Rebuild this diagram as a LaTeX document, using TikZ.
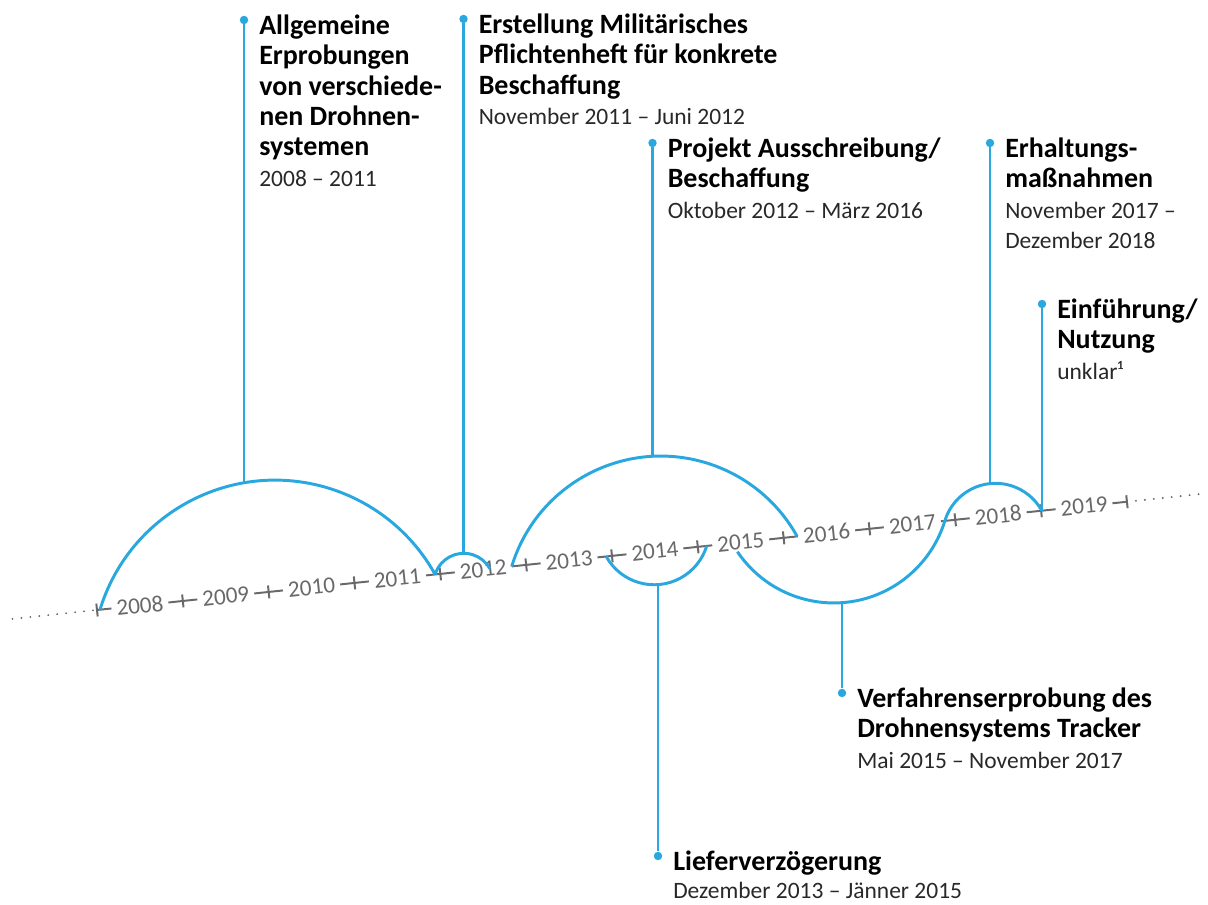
\documentclass[tikz,border=0pt]{standalone}
\usepackage{fontspec}
\setmainfont{Carlito}
\usepackage{tikz}
\usetikzlibrary{calc}

\definecolor{tlblue}{RGB}{41,168,224}
\definecolor{tlgray}{RGB}{105,105,108}
\definecolor{tldate}{RGB}{40,40,40}
\newcommand{\titlefont}{\fontsize{19.9pt}{21.6pt}\selectfont\bfseries}
\newcommand{\datefont}{\fontsize{16.7pt}{21.6pt}\selectfont\mdseries\color{tldate}}

\tikzset{
	arcline/.style={tlblue, line width=2.1pt},
	conn/.style={tlblue, line width=1.9pt},
	evdot/.style={circle, fill=tlblue, inner sep=0pt, minimum size=6pt},
	evtext/.style={anchor=base west, inner sep=0pt, font=\titlefont},
	yearlbl/.style={fill=white, text=tlgray, inner xsep=3.6pt, inner ysep=2pt, rotate=6, font=\fontsize{16.5pt}{19pt}\selectfont},
	axisline/.style={tlgray, line width=1.4pt},
	axisdots/.style={tlgray, line width=1.5pt, line cap=round, dash pattern=on 0pt off 6.4pt},
}

\begin{document}
\begin{tikzpicture}[x=0.025cm, y=0.025cm]
	\useasboundingbox (0,0) rectangle (1208,905);
	
	\begin{scope}[shift={(97,295)}, rotate=6]
	%axis
	\draw[axisdots] (-85,0) -- (0,0);
	\draw[axisdots] (1035.6,0) -- (1114,0);
	\draw[axisline] (0,0) -- (1035.6,0);
	\draw[axisline] (0,-6.5)--(0,6.5) (86.3,-6.5)--(86.3,6.5) (172.6,-6.5)--(172.6,6.5) (258.9,-6.5)--(258.9,6.5)
		(345.2,-6.5)--(345.2,6.5) (431.5,-6.5)--(431.5,6.5) (517.8,-6.5)--(517.8,6.5) (604.1,-6.5)--(604.1,6.5)
		(690.4,-6.5)--(690.4,6.5) (776.7,-6.5)--(776.7,6.5) (863,-6.5)--(863,6.5) (949.3,-6.5)--(949.3,6.5)
		(1035.6,-6.5)--(1035.6,6.5);
	
	%years
	\node[yearlbl] (y2008) at (43.15,0)  {2008};
	\node[yearlbl] (y2009) at (129.45,0) {2009};
	\node[yearlbl] (y2010) at (215.75,0) {2010};
	\node[yearlbl] (y2011) at (302.05,0) {2011};
	\node[yearlbl] (y2012) at (388.35,0) {2012};
	\node[yearlbl] (y2013) at (474.65,0) {2013};
	\node[yearlbl] (y2014) at (560.95,0) {2014};
	\node[yearlbl] (y2015) at (647.25,0) {2015};
	\node[yearlbl] (y2016) at (733.55,0) {2016};
	\node[yearlbl] (y2017) at (819.85,0) {2017};
	\node[yearlbl] (y2018) at (906.15,0) {2018};
	\node[yearlbl] (y2019) at (992.45,0) {2019};
	
	%arcs
	\draw[arcline] (3,0) arc[start angle=157, end angle=23, radius=183.05];		%2008-2011
	\draw[arcline] (340,0) arc[start angle=157, end angle=23, radius=29.9];		%11/2011-6/2012
	\draw[arcline] (417,0) arc[start angle=157, end angle=23, radius=155.9];		%10/2012-3/2016
	\draw[arcline] (512,0) arc[start angle=203, end angle=337, radius=54.9];		%12/2013-1/2015
	\draw[arcline] (643,-9) arc[start angle=208, end angle=337, radius=116.2]
		arc[start angle=157, end angle=23, radius=52.9];						%5/2015-11/2017-12/2018
	
	%points on arcs
	\coordinate (pAllg) at (158.7,111.1);
	\coordinate (pErst) at (370.6,18.0);
	\coordinate (pProj) at (568.7,94.8);
	\coordinate (pLief) at (560.6,-33.4);
	\coordinate (pVerf) at (741.6,-70.7);
	\coordinate (pErh)  at (901.3,32.2);
	\coordinate (pEinf) at (950,0);
	\end{scope}
	
	%dots
	\node[evdot] (dAllg) at (244,885)   {};
	\node[evdot] (dErst) at (463.5,886) {};
	\node[evdot] (dProj) at (652.5,762) {};
	\node[evdot] (dErh)  at (990,762)   {};
	\node[evdot] (dEinf) at (1042,601)  {};
	\node[evdot] (dVerf) at (842,212)   {};
	\node[evdot] (dLief) at (658,49)    {};
	
	%connectors
	\draw[conn] (dAllg) -- (dAllg |- pAllg);
	\draw[conn] (dErst) -- (dErst |- pErst);
	\draw[conn] (dProj) -- (dProj |- pProj);
	\draw[conn] (dErh)  -- (dErh |- pErh);
	\draw[conn] (dEinf) -- (dEinf |- pEinf);
	\draw[conn] (dVerf) -- (dVerf |- pVerf);
	\draw[conn] (dLief) -- (dLief |- pLief);
	
	%labels
	\node[evtext] (tAllg) at (259,870.5) {\begin{tabular}[t]{@{}l@{}}Allgemeine\\Erprobungen\\von verschiede-\\nen Drohnen-\\systemen\\\datefont 2008 – 2011\end{tabular}};
	\node[evtext] (tErst) at (478.5,871.5) {\begin{tabular}[t]{@{}l@{}}Erstellung Militärisches\\Pflichtenheft für konkrete\\Beschaffung\\\datefont November 2011 – Juni 2012\end{tabular}};
	\node[evtext] (tProj) at (667.5,747.5) {\begin{tabular}[t]{@{}l@{}}Projekt Ausschreibung/\\Beschaffung\\\datefont Oktober 2012 – März 2016\end{tabular}};
	\node[evtext] (tErh)  at (1005,747.5) {\begin{tabular}[t]{@{}l@{}}Erhaltungs-\\maßnahmen\\\datefont November 2017 –\\\datefont Dezember 2018\end{tabular}};
	\node[evtext] (tEinf) at (1057,586.5) {\begin{tabular}[t]{@{}l@{}}Einführung/\\Nutzung\\\datefont unklar¹\end{tabular}};
	\node[evtext] (tVerf) at (857,197.5) {\begin{tabular}[t]{@{}l@{}}Verfahrenserprobung des\\Drohnensystems Tracker\\\datefont Mai 2015 – November 2017\end{tabular}};
	\node[evtext] (tLief) at (673,34.5) {\begin{tabular}[t]{@{}l@{}}Lieferverzögerung\\[-2pt]\datefont Dezember 2013 – Jänner 2015\\[-6pt]\end{tabular}};
	
	%\draw[help lines] (0,0) grid[step=50] (1208,905);
\end{tikzpicture}
\end{document}
